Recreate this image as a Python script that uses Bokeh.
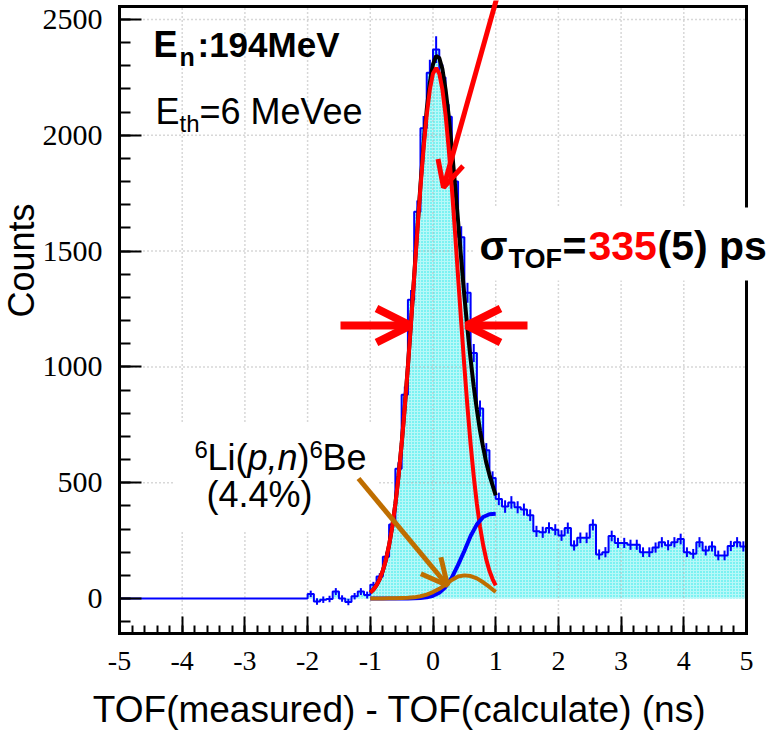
import math
import numpy as np
from bokeh.plotting import figure
from bokeh.models import (Range1d, FixedTicker, LinearAxis, Label, Arrow, OpenHead,
                          BoxAnnotation)
from bokeh.embed import file_html
from bokeh.resources import INLINE

# ---------------- data ----------------
x_ticks = [-5, -4, -3, -2, -1, 0, 1, 2, 3, 4, 5]
x_tick_labels = ["-5", "-4", "-3", "-2", "-1", "0", "1", "2", "3", "4", "5"]
y_ticks = [0, 500, 1000, 1500, 2000, 2500]
y_tick_labels = ["0", "500", "1000", "1500", "2000", "2500"]

bin_edges = np.round(np.arange(-5.0, 5.0001, 0.1), 2)  # 100 bins of 0.1 ns

counts = ([0] * 30 +
          # -2.0 .. -1.1
          [20, -13, -5, -2, 30, 0, -15, 10, 30, 15] +
          # -1.0 .. 0.9
          [60, 95, 180, 320, 560, 880, 1290, 1670, 2030, 2270,
           2370, 2250, 2080, 1800, 1560, 1320, 1060, 820, 640, 520] +
          # 1.0 .. 4.9
          [430, 397, 415, 394, 384, 360, 290, 286, 305, 297,
           272, 304, 229, 262, 262, 318, 190, 200, 270, 240,
           240, 232, 232, 200, 200, 220, 243, 230, 243, 257,
           200, 193, 243, 207, 225, 186, 186, 227, 243, 225])

errors = ([0] * 30 +
          [14, 14, 14, 14, 15, 14, 14, 14, 15, 15] +
          [12, 14, 18, 22, 28, 35, 42, 48, 53, 56,
           58, 56, 54, 50, 47, 43, 39, 35, 31, 29] +
          [27, 27, 27, 26, 26, 25, 24, 24, 24, 24,
           23, 24, 22, 23, 23, 24, 22, 22, 23, 22,
           22, 22, 22, 21, 21, 22, 22, 22, 22, 23,
           21, 21, 22, 21, 22, 21, 21, 22, 22, 22])

fit_x = np.round(np.arange(-1.0, 1.0001, 0.05), 2)
fit_total = [25, 39, 58, 84, 120, 168, 231, 311, 409, 529, 668, 829, 1005, 1196,
             1394, 1594, 1786, 1961, 2111, 2228, 2307, 2343, 2334, 2286, 2199,
             2085, 1944, 1791, 1629, 1465, 1307, 1162, 1033, 914, 815, 725, 653,
             586, 534, 489, 445]
fit_main = [25, 39, 58, 84, 120, 168, 231, 310, 408, 527, 666, 826, 1002, 1192,
            1389, 1586, 1774, 1945, 2089, 2198, 2267, 2290, 2267, 2198, 2089,
            1945, 1774, 1586, 1389, 1192, 1002, 826, 666, 527, 408, 310, 231,
            168, 120, 84, 57]

comp_x = np.round(np.arange(-1.0, 1.0001, 0.1), 2)
comp_blue = [0, 0, 0, 0, 0, 0, 0, 1, 2, 5, 12, 25, 50, 90, 145, 205, 270, 320,
             352, 364, 366]
comp_be6 = [0, 0, 0, 1, 1, 2, 3, 5, 10, 17, 28, 42, 60, 80, 95, 100, 97, 87,
            70, 50, 28]

# ---------------- layout ----------------
W, H = 777, 733
FL, FR, FT, FB = 119, 746, 6, 633          # data-area box in pixels
XR = (-5.0, 5.0)
YR = (-151.0, 2556.0)


def X(px):
    return XR[0] + (px - FL) * (XR[1] - XR[0]) / (FR - FL)


def Y(py):
    return YR[0] + (FB - py) * (YR[1] - YR[0]) / (FB - FT)


p = figure(width=W, height=H, x_range=Range1d(X(0), X(W)),
           y_range=Range1d(Y(H), Y(0)),
           output_backend="svg", toolbar_location=None, tools="",
           x_axis_location=None, y_axis_location=None,
           min_border=0, min_border_left=0, min_border_right=0,
           min_border_top=0, min_border_bottom=0, outline_line_color=None,
           background_fill_color="white", border_fill_color="white")
for g in p.grid:
    g.visible = False

SERIF = "Liberation Serif"
SANS = "Liberation Sans"


def make_axis(loc, fixed, bounds, ticks, minor, labels, tin, mtin, fsize, standoff):
    ax = LinearAxis(fixed_location=fixed, bounds=bounds,
                    ticker=FixedTicker(ticks=ticks, minor_ticks=minor),
                    axis_line_width=3, axis_line_color="black",
                    axis_line_cap="square",
                    major_tick_in=tin, major_tick_out=0,
                    minor_tick_in=mtin, minor_tick_out=0,
                    major_tick_line_width=2, minor_tick_line_width=2,
                    major_label_text_font=SERIF,
                    major_label_text_font_size=fsize,
                    major_label_text_color="black",
                    major_label_standoff=standoff)
    if labels:
        ax.major_label_overrides = {t: l for t, l in zip(ticks, labels)}
    p.add_layout(ax, loc)
    return ax


make_axis("below", YR[0], XR, x_ticks,
          list(np.round(np.arange(-5, 5.0001, 0.2), 2)), x_tick_labels,
          17, 8, "28px", 18)
make_axis("left", XR[0], YR, y_ticks, list(range(-100, 2501, 100)),
          y_tick_labels, 22, 11, "30px", 17)
make_axis("above", YR[1], XR, [], [], None, 0, 0, "0px", 0)
make_axis("right", XR[1], YR, [], [], None, 0, 0, "0px", 0)

# ---------------- histogram ----------------
step_y = counts + [counts[-1]]
p.varea_step(x=bin_edges, y1=0, y2=step_y, step_mode="after",
             fill_color="#b8f8f8", hatch_pattern="dot", hatch_color="#20e8e8",
             hatch_scale=3, hatch_weight=1.5)

# grid lines at the major ticks (inside the data box only)
gx = x_ticks[1:-1]
gy = y_ticks[1:]
grid_kw = dict(line_color="#b0b0b0", line_dash="1 3", line_width=1.5)
p.segment(x0=gx, y0=[YR[0]] * len(gx), x1=gx, y1=[YR[1]] * len(gx), **grid_kw)
p.segment(x0=[XR[0]] * len(gy), y0=gy, x1=[XR[1]] * len(gy), y1=gy, **grid_kw)

p.step(x=bin_edges, y=step_y, mode="after", line_color="#0000ff", line_width=2)
p.segment(x0=[bin_edges[0]], y0=[YR[0]], x1=[bin_edges[0]], y1=[counts[0]],
          line_color="#0000ff", line_width=2)

centers = (bin_edges[:-1] + bin_edges[1:]) / 2
err_x = [c for c, e in zip(centers, errors) if e > 0]
err_lo = [v - e for v, e in zip(counts, errors) if e > 0]
err_hi = [v + e for v, e in zip(counts, errors) if e > 0]
p.segment(x0=err_x, y0=err_lo, x1=err_x, y1=err_hi, line_color="#0000ff",
          line_width=2)

# ---------------- fit curves ----------------
p.line(fit_x, fit_total, line_color="black", line_width=4)
p.line(fit_x, fit_main, line_color="#ff0000", line_width=4)
p.line(comp_x, comp_blue, line_color="#0000ff", line_width=4)
p.line(comp_x, comp_be6, line_color="#bf6e00", line_width=4)

# ---------------- annotations ----------------
p.add_layout(BoxAnnotation(left=X(173), right=X(378), top=Y(423), bottom=Y(530),
                           fill_color="white", fill_alpha=1, line_color=None))
p.add_layout(BoxAnnotation(left=X(474), right=X(790), top=Y(207), bottom=Y(280),
                           fill_color="white", fill_alpha=1, line_color=None))

BASE_SHIFT = 0.36   # compensates where the alphabetic baseline is drawn


def lab(text, px, py, size, font=SANS, style="normal", color="black",
        align="left", baseline="alphabetic", angle=0.0):
    if baseline == "alphabetic":
        py = py - BASE_SHIFT * size
    p.add_layout(Label(x=X(px), y=Y(py), text=text, text_font=font,
                       text_font_size=f"{size}px", text_font_style=style,
                       text_color=color, text_align=align,
                       text_baseline=baseline, angle=angle))


lab("Counts", 21, 260, 36, align="center", baseline="middle", angle=math.pi / 2)
lab("TOF(measured) - TOF(calculate) (ns)", 399, 722, 37, align="center")

lab("E", 153, 57, 36, style="bold")
lab("n", 179, 65, 25, style="bold")
lab(":194MeV", 197, 57, 35, style="bold")

lab("E", 155, 124, 36)
lab("th", 179, 132, 24)
lab("=6 MeVee", 199, 124, 36)

lab("σ", 479, 260, 41, style="bold")
lab("TOF", 508, 268, 27, style="bold")
lab("=", 562, 260, 41, style="bold")
lab("335", 588, 260, 41, style="bold", color="#ff0000")
lab("(5) ps", 657, 260, 41, style="bold")

lab("6", 194, 458, 24)
lab("Li(", 207, 470, 36)
lab("p,n", 247, 470, 36, style="italic")
lab(")", 297, 470, 36)
lab("6", 309, 458, 24)
lab("Be", 322, 470, 36)
lab("(4.4%)", 259, 507, 36, align="center")

red = "#ff0000"
p.add_layout(Arrow(x_start=X(497), y_start=Y(-5), x_end=X(443), y_end=Y(187),
                   line_color=red, line_width=5,
                   end=OpenHead(size=26, line_color=red, line_width=5)))
p.add_layout(Arrow(x_start=X(340), y_start=Y(325), x_end=X(410), y_end=Y(325),
                   line_color=red, line_width=8,
                   end=OpenHead(size=34, line_color=red, line_width=8)))
p.add_layout(Arrow(x_start=X(527), y_start=Y(325), x_end=X(466), y_end=Y(325),
                   line_color=red, line_width=8,
                   end=OpenHead(size=34, line_color=red, line_width=8)))
brown = "#bf6e00"
p.add_layout(Arrow(x_start=X(358), y_start=Y(478), x_end=X(447), y_end=Y(585),
                   line_color=brown, line_width=5,
                   end=OpenHead(size=26, line_color=brown, line_width=5)))

open("out.html", "w").write(file_html(p, INLINE))
